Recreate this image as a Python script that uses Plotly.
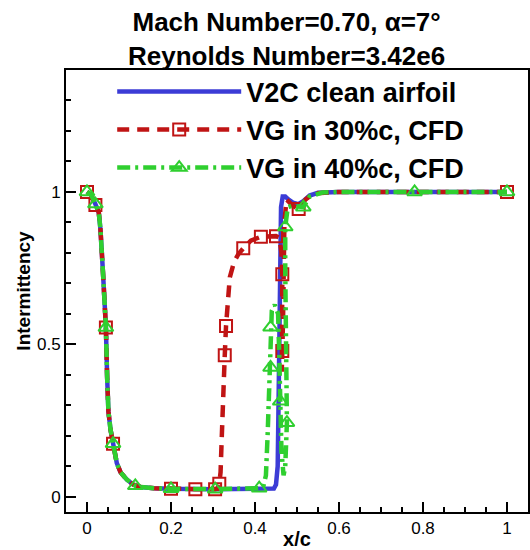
import plotly.graph_objects as go

# ---------------- data ----------------
# V2C clean airfoil (solid line)
clean_x = [0.0, 0.01, 0.02, 0.028, 0.032, 0.036, 0.038, 0.041, 0.044, 0.045, 0.048, 0.051,
           0.056, 0.062, 0.071, 0.08, 0.095, 0.11, 0.127, 0.16, 0.2, 0.3, 0.4, 0.445,
           0.45, 0.454, 0.456, 0.458, 0.46, 0.462, 0.466, 0.472, 0.48, 0.49, 0.503,
           0.515, 0.53, 0.55, 0.6, 0.8, 1.0]
clean_y = [1.0, 0.99, 0.96, 0.933, 0.878, 0.81, 0.737, 0.66, 0.58, 0.555, 0.39, 0.28,
           0.22, 0.174, 0.11, 0.08, 0.056, 0.04, 0.032, 0.028, 0.026, 0.025, 0.025, 0.027,
           0.04, 0.1, 0.3, 0.6, 0.85, 0.95, 0.985, 0.985, 0.975, 0.965, 0.96,
           0.97, 0.988, 0.997, 1.0, 1.0, 1.0]

# VG in 30%c, CFD (dashed, squares)
vg30_x = [0.0, 0.01, 0.02, 0.028, 0.032, 0.036, 0.038, 0.041, 0.044, 0.045, 0.048, 0.051,
          0.056, 0.062, 0.071, 0.08, 0.095, 0.11, 0.127, 0.16, 0.2, 0.258, 0.305, 0.31,
          0.315, 0.318, 0.321, 0.324, 0.328, 0.331, 0.335, 0.34, 0.35, 0.36, 0.372,
          0.39, 0.414, 0.43, 0.45, 0.458, 0.463, 0.465, 0.465, 0.465, 0.464, 0.467,
          0.47, 0.475, 0.49, 0.504, 0.52, 0.54, 0.6, 0.8, 1.0]
vg30_y = [1.0, 0.99, 0.957, 0.933, 0.878, 0.81, 0.737, 0.66, 0.58, 0.555, 0.39, 0.28,
          0.22, 0.174, 0.11, 0.08, 0.056, 0.04, 0.032, 0.028, 0.026, 0.025, 0.025, 0.027,
          0.043, 0.08, 0.2, 0.35, 0.464, 0.56, 0.65, 0.72, 0.77, 0.795, 0.815,
          0.84, 0.853, 0.855, 0.855, 0.85, 0.8, 0.73, 0.6, 0.478, 0.41, 0.6,
          0.9, 0.975, 0.955, 0.944, 0.975, 0.995, 1.0, 1.0, 1.0]
vg30_mark_x = [0.0, 0.02, 0.045, 0.062, 0.2, 0.258, 0.305, 0.315, 0.328, 0.331,
               0.372, 0.414, 0.45, 0.465, 0.465, 0.504, 1.0]
vg30_mark_y = [1.0, 0.957, 0.555, 0.174, 0.026, 0.025, 0.025, 0.043, 0.464, 0.56,
               0.815, 0.853, 0.855, 0.73, 0.478, 0.944, 1.0]

# VG in 40%c, CFD (dash-dot, triangles)
vg40_x = [0.0, 0.01, 0.02, 0.028, 0.032, 0.036, 0.038, 0.041, 0.044, 0.045, 0.048, 0.051,
          0.056, 0.062, 0.071, 0.08, 0.095, 0.115, 0.127, 0.16, 0.2, 0.305, 0.38, 0.41,
          0.42, 0.426, 0.43, 0.433, 0.437, 0.437, 0.44, 0.447, 0.455, 0.458, 0.46,
          0.463, 0.468, 0.472, 0.476, 0.474, 0.472, 0.472, 0.472, 0.478, 0.49, 0.503,
          0.515, 0.53, 0.56, 0.6, 0.78, 1.0]
vg40_y = [1.0, 0.99, 0.96, 0.933, 0.878, 0.81, 0.737, 0.66, 0.58, 0.555, 0.39, 0.28,
          0.22, 0.174, 0.11, 0.08, 0.056, 0.036, 0.032, 0.028, 0.026, 0.025, 0.025, 0.028,
          0.035, 0.07, 0.2, 0.35, 0.424, 0.556, 0.61, 0.63, 0.6, 0.45, 0.313,
          0.15, 0.07, 0.1, 0.243, 0.4, 0.6, 0.75, 0.885, 0.95, 0.955, 0.952,
          0.95, 0.985, 0.998, 1.0, 1.0, 1.0]
vg40_mark_x = [0.0, 0.02, 0.045, 0.062, 0.115, 0.2, 0.305, 0.41, 0.437, 0.437,
               0.46, 0.476, 0.472, 0.515, 0.78, 1.0]
vg40_mark_y = [1.0, 0.96, 0.555, 0.174, 0.036, 0.026, 0.025, 0.028, 0.424, 0.556,
               0.313, 0.243, 0.885, 0.95, 1.0, 1.0]

names = ["V2C clean airfoil", "VG in 30%c, CFD", "VG in 40%c, CFD"]
title_lines = ["Mach Number=0.70, α=7°", "Reynolds Number=3.42e6"]
x_ticks = [0, 0.2, 0.4, 0.6, 0.8, 1]
y_ticks = [0, 0.5, 1]

# ---------------- style ----------------
BLUE = "#3c3cd6"
RED = "#c01414"
GREEN = "#2fcf2f"
LW = 4.5
FONT = "Liberation Sans, Arial, sans-serif"
dash30 = "12px,8px"
dash40 = "13px,5px,3px,5px"

fig = go.Figure()

# data lines (blue bottom, red middle, green top)
fig.add_trace(go.Scatter(x=clean_x, y=clean_y, mode="lines", showlegend=False,
                         line=dict(color=BLUE, width=LW)))
fig.add_trace(go.Scatter(x=vg30_x, y=vg30_y, mode="lines", showlegend=False,
                         line=dict(color=RED, width=LW, dash=dash30)))
fig.add_trace(go.Scatter(x=vg30_mark_x, y=vg30_mark_y, mode="markers", showlegend=False,
                         marker=dict(symbol="square-open", size=12, color=RED,
                                     line=dict(width=2, color=RED))))
fig.add_trace(go.Scatter(x=vg40_x, y=vg40_y, mode="lines", showlegend=False,
                         line=dict(color=GREEN, width=LW, dash=dash40)))
fig.add_trace(go.Scatter(x=vg40_mark_x, y=vg40_mark_y, mode="markers", showlegend=False,
                         marker=dict(symbol="triangle-up-open", size=13, color=GREEN,
                                     line=dict(width=2, color=GREEN))))

# legend entries
fig.add_trace(go.Scatter(x=[None], y=[None], mode="lines", name=names[0],
                         line=dict(color=BLUE, width=LW)))
fig.add_trace(go.Scatter(x=[None], y=[None], mode="lines+markers", name=names[1],
                         line=dict(color=RED, width=LW, dash=dash30),
                         marker=dict(symbol="square-open", size=12, color=RED,
                                     line=dict(width=2, color=RED))))
fig.add_trace(go.Scatter(x=[None], y=[None], mode="lines+markers", name=names[2],
                         line=dict(color=GREEN, width=LW, dash=dash40),
                         marker=dict(symbol="triangle-up-open", size=13, color=GREEN,
                                     line=dict(width=2, color=GREEN))))

axis_common = dict(showline=True, linecolor="black", linewidth=2, mirror=True,
                   showgrid=False, zeroline=False, ticks="inside", ticklen=10,
                   tickwidth=2, tickcolor="black", automargin=False,
                   tickfont=dict(family=FONT, size=17, color="black"))

fig.update_xaxes(range=[-0.05, 1.05], tickvals=x_ticks,
                 ticktext=[str(v) for v in x_ticks],
                 minor=dict(dtick=0.05, tick0=0, ticks="inside", ticklen=5,
                            tickwidth=1.5, tickcolor="black"),
                 title=dict(text="x/c", standoff=2,
                            font=dict(family=FONT, size=20, color="black", weight="bold")),
                 **axis_common)
fig.update_yaxes(range=[-0.05, 1.4], tickvals=y_ticks,
                 ticktext=[str(v) for v in y_ticks],
                 minor=dict(dtick=0.1, tick0=0, ticks="inside", ticklen=5,
                            tickwidth=1.5, tickcolor="black"),
                 title=dict(text="Intermittency", standoff=1,
                            font=dict(family=FONT, size=19, color="black", weight="bold")),
                 **axis_common)

fig.update_layout(
    width=530, height=550,
    margin=dict(l=66, r=2, t=70, b=38),
    plot_bgcolor="white", paper_bgcolor="white",
    legend=dict(x=0.1, y=1.006, xanchor="left", yanchor="top",
                bgcolor="rgba(255,255,255,0)", borderwidth=0, itemwidth=124,
                font=dict(family=FONT, size=27, color="black", weight="bold"),
                tracegroupgap=0),
    annotations=[
        dict(text=title_lines[0] + "<br>" + title_lines[1], xref="paper", yref="paper",
             x=0.477, y=1.0704, xanchor="center", yanchor="middle", showarrow=False,
             font=dict(family=FONT, size=26, color="black", weight="bold")),
    ],
)

fig.write_html("out.html")
